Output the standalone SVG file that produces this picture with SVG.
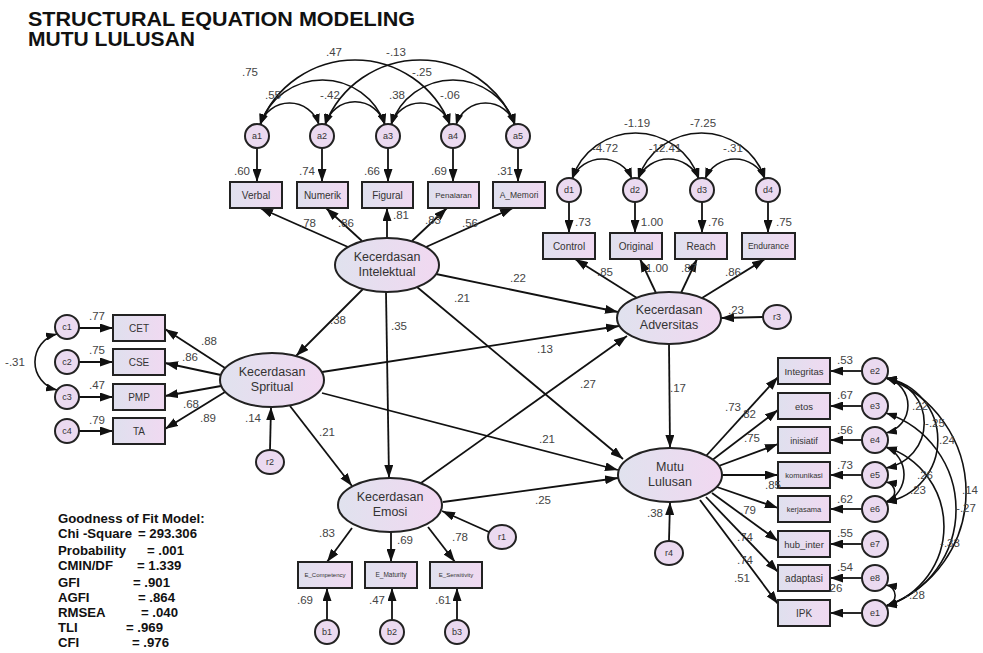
<svg xmlns="http://www.w3.org/2000/svg" width="983" height="653" viewBox="0 0 983 653">
<defs>
<linearGradient id="gb" x1="0" y1="0" x2="1" y2="0"><stop offset="0" stop-color="#dfe0ee"/><stop offset="1" stop-color="#f0d9f1"/></linearGradient>
<linearGradient id="ge" x1="0" y1="0" x2="1" y2="0"><stop offset="0" stop-color="#e0e2ee"/><stop offset="1" stop-color="#f1d8f1"/></linearGradient>
<marker id="ah" viewBox="0 0 13 9" refX="13" refY="4.5" markerWidth="13" markerHeight="9" orient="auto-start-reverse" markerUnits="userSpaceOnUse"><path d="M0,0 L13,4.5 L0,9 z" fill="#111"/></marker>
<marker id="ac" viewBox="0 0 11 8" refX="11" refY="4" markerWidth="11" markerHeight="8" orient="auto-start-reverse" markerUnits="userSpaceOnUse"><path d="M0,0 L11,4 L0,8 z" fill="#111"/></marker>
<style>
.box{fill:url(#gb);stroke:#222;stroke-width:2}
.lat{fill:url(#ge);stroke:#222;stroke-width:2}
.err{fill:#ebdaf0;stroke:#222;stroke-width:2}
.ln{stroke:#111;stroke-width:1.8;fill:none;marker-end:url(#ah)}
.cv{stroke:#111;stroke-width:1.6;fill:none;marker-start:url(#ac);marker-end:url(#ac)}
text{font-family:"Liberation Sans",Arial,sans-serif;fill:#333}
.t{font-size:10px;text-anchor:middle}
.tl{font-size:12.5px;text-anchor:middle}
.te{font-size:9px;text-anchor:middle}
.n{font-size:11.5px;text-anchor:middle;fill:#444}
.title{font-size:20px;font-weight:bold;fill:#111}
.fit{font-size:13.2px;font-weight:bold;fill:#111}
</style>
</defs>
<rect width="983" height="653" fill="#fff"/>
<text class="title" x="28" y="26" textLength="387" lengthAdjust="spacingAndGlyphs">STRUCTURAL EQUATION MODELING</text>
<text class="title" x="28" y="46" textLength="167" lengthAdjust="spacingAndGlyphs">MUTU LULUSAN</text>

<g id="connectors">
<path class="cv" d="M260,125 A30.8,30.8 0 0 1 319,125"/>
<path class="cv" d="M325,125 A31,31 0 0 1 385,125"/>
<path class="cv" d="M391,125 A30.8,30.8 0 0 1 450,125"/>
<path class="cv" d="M456,125 A30.8,30.8 0 0 1 515,125"/>
<path class="cv" d="M260,125 A65.9,65.9 0 0 1 385,125"/>
<path class="cv" d="M391,125 A65.2,65.2 0 0 1 515,125"/>
<path class="cv" d="M260,125 A101.9,101.9 0 0 1 450,125"/>
<path class="cv" d="M325,125 A101.9,101.9 0 0 1 515,125"/>
<path class="cv" d="M572,179 A32.5,32.5 0 0 1 632,179"/>
<path class="cv" d="M638,179 A33.3,33.3 0 0 1 699,179"/>
<path class="cv" d="M705,179 A32.5,32.5 0 0 1 765,179"/>
<path class="cv" d="M572,179 A66.8,66.8 0 0 1 699,179"/>
<path class="cv" d="M638,179 A66.8,66.8 0 0 1 765,179"/>
<path class="cv" d="M57,334 A28.8,28.8 0 0 0 57,390"/>
<path class="cv" d="M886,378 A28.2,28.2 0 0 1 886,433"/>
<path class="cv" d="M886,378 A45.6,45.6 0 0 1 886,468"/>
<path class="cv" d="M886,378 A63,63 0 0 1 886,502"/>
<path class="cv" d="M886,447 A30,30 0 0 1 886,502"/>
<path class="cv" d="M886,482 A10.1,10.1 0 0 1 886,502"/>
<path class="cv" d="M886,378 A121.2,121.2 0 0 1 886,606"/>
<path class="cv" d="M886,413 A101.5,101.5 0 0 1 886,606"/>
<path class="cv" d="M886,447 A83.5,83.5 0 0 1 886,606"/>
<path class="cv" d="M886,585 A10.6,10.6 0 0 1 886,606"/>
<line class="ln" x1="257" y1="148" x2="257" y2="182"/>
<line class="ln" x1="322" y1="148" x2="322" y2="182"/>
<line class="ln" x1="388" y1="148" x2="388" y2="182"/>
<line class="ln" x1="453" y1="148" x2="453" y2="182"/>
<line class="ln" x1="518" y1="148" x2="518" y2="182"/>
<line class="ln" x1="569" y1="202" x2="569" y2="233"/>
<line class="ln" x1="635" y1="202" x2="635" y2="233"/>
<line class="ln" x1="702" y1="202" x2="702" y2="233"/>
<line class="ln" x1="768" y1="202" x2="768" y2="233"/>
<line class="ln" x1="79" y1="328" x2="113" y2="328"/>
<line class="ln" x1="79" y1="362" x2="113" y2="362"/>
<line class="ln" x1="79" y1="397" x2="113" y2="397"/>
<line class="ln" x1="79" y1="431" x2="113" y2="431"/>
<line class="ln" x1="327" y1="620" x2="327" y2="588"/>
<line class="ln" x1="392" y1="620" x2="392" y2="588"/>
<line class="ln" x1="457" y1="620" x2="457" y2="588"/>
<line class="ln" x1="862" y1="371" x2="830" y2="371"/>
<line class="ln" x1="862" y1="406" x2="830" y2="406"/>
<line class="ln" x1="862" y1="440" x2="830" y2="440"/>
<line class="ln" x1="862" y1="475" x2="830" y2="475"/>
<line class="ln" x1="862" y1="509" x2="830" y2="509"/>
<line class="ln" x1="862" y1="544" x2="830" y2="544"/>
<line class="ln" x1="862" y1="578" x2="830" y2="578"/>
<line class="ln" x1="862" y1="613" x2="830" y2="613"/>
<line class="ln" x1="348" y1="247" x2="260" y2="208"/>
<line class="ln" x1="362" y1="241" x2="326" y2="208"/>
<line class="ln" x1="387" y1="238" x2="387" y2="208"/>
<line class="ln" x1="412" y1="241" x2="447" y2="208"/>
<line class="ln" x1="426" y1="247" x2="513" y2="208"/>
<line class="ln" x1="637" y1="298" x2="575" y2="259"/>
<line class="ln" x1="656" y1="293" x2="640" y2="259"/>
<line class="ln" x1="681" y1="293" x2="697" y2="259"/>
<line class="ln" x1="702" y1="298" x2="765" y2="259"/>
<line class="ln" x1="225" y1="368" x2="165" y2="329"/>
<line class="ln" x1="221" y1="375" x2="165" y2="363"/>
<line class="ln" x1="221" y1="386" x2="165" y2="396"/>
<line class="ln" x1="225" y1="392" x2="165" y2="429"/>
<line class="ln" x1="352" y1="528" x2="327" y2="562"/>
<line class="ln" x1="391" y1="532" x2="391" y2="562"/>
<line class="ln" x1="428" y1="527" x2="455" y2="562"/>
<line class="ln" x1="706" y1="456" x2="778" y2="377"/>
<line class="ln" x1="711" y1="461" x2="778" y2="410"/>
<line class="ln" x1="716" y1="467" x2="778" y2="444"/>
<line class="ln" x1="722" y1="475" x2="778" y2="475"/>
<line class="ln" x1="717" y1="487" x2="778" y2="508"/>
<line class="ln" x1="712" y1="493" x2="778" y2="541"/>
<line class="ln" x1="706" y1="497" x2="778" y2="572"/>
<line class="ln" x1="700" y1="500" x2="778" y2="604"/>
<line class="ln" x1="763" y1="317" x2="721" y2="318"/>
<line class="ln" x1="270" y1="450" x2="271" y2="407"/>
<line class="ln" x1="489" y1="532" x2="442" y2="511"/>
<line class="ln" x1="669" y1="541" x2="670" y2="502"/>
<line class="ln" x1="363" y1="289" x2="296" y2="356"/>
<line class="ln" x1="386" y1="292" x2="389" y2="478"/>
<line class="ln" x1="436" y1="274" x2="618" y2="312"/>
<line class="ln" x1="417" y1="287" x2="623" y2="459"/>
<line class="ln" x1="322" y1="372" x2="619" y2="326"/>
<line class="ln" x1="322" y1="393" x2="618" y2="470"/>
<line class="ln" x1="290" y1="406" x2="352" y2="486"/>
<line class="ln" x1="421" y1="483" x2="627" y2="336"/>
<line class="ln" x1="443" y1="502" x2="618" y2="478"/>
<line class="ln" x1="669" y1="344" x2="670" y2="448"/>
</g>

<g id="a1"><circle class="err" cx="257" cy="136" r="12"/><text class="te" x="257" y="139">a1</text></g>
<g id="a2"><circle class="err" cx="322" cy="136" r="12"/><text class="te" x="322" y="139">a2</text></g>
<g id="a3"><circle class="err" cx="388" cy="136" r="12"/><text class="te" x="388" y="139">a3</text></g>
<g id="a4"><circle class="err" cx="453" cy="136" r="12"/><text class="te" x="453" y="139">a4</text></g>
<g id="a5"><circle class="err" cx="518" cy="136" r="12"/><text class="te" x="518" y="139">a5</text></g>
<g id="Verbal"><rect class="box" x="230" y="182" width="52" height="26"/><text class="t" x="256" y="199">Verbal</text></g>
<g id="Numerik"><rect class="box" x="297" y="182" width="51" height="26"/><text class="t" x="322.5" y="199">Numerik</text></g>
<g id="Figural"><rect class="box" x="362" y="182" width="51" height="26"/><text class="t" x="387.5" y="199">Figural</text></g>
<g id="Penalaran"><rect class="box" x="428" y="182" width="51" height="26"/><text class="t" x="453.5" y="198" style="font-size:8px">Penalaran</text></g>
<g id="A_Memori"><rect class="box" x="493" y="182" width="52" height="26"/><text class="t" x="519" y="198" style="font-size:8.5px">A_Memori</text></g>

<g id="d1"><circle class="err" cx="569" cy="190" r="12"/><text class="te" x="569" y="193">d1</text></g>
<g id="d2"><circle class="err" cx="635" cy="190" r="12"/><text class="te" x="635" y="193">d2</text></g>
<g id="d3"><circle class="err" cx="702" cy="190" r="12"/><text class="te" x="702" y="193">d3</text></g>
<g id="d4"><circle class="err" cx="768" cy="190" r="12"/><text class="te" x="768" y="193">d4</text></g>
<g id="Control"><rect class="box" x="543" y="233" width="52" height="26"/><text class="t" x="569" y="250">Control</text></g>
<g id="Original"><rect class="box" x="610" y="233" width="52" height="26"/><text class="t" x="636" y="250">Original</text></g>
<g id="Reach"><rect class="box" x="675" y="233" width="52" height="26"/><text class="t" x="701" y="250">Reach</text></g>
<g id="Endurance"><rect class="box" x="742" y="233" width="53" height="26"/><text class="t" x="768.5" y="249" style="font-size:8.5px">Endurance</text></g>

<g id="c1"><circle class="err" cx="67" cy="327" r="12"/><text class="te" x="67" y="330">c1</text></g>
<g id="c2"><circle class="err" cx="67" cy="362" r="12"/><text class="te" x="67" y="365">c2</text></g>
<g id="c3"><circle class="err" cx="67" cy="397" r="12"/><text class="te" x="67" y="400">c3</text></g>
<g id="c4"><circle class="err" cx="67" cy="431" r="12"/><text class="te" x="67" y="434">c4</text></g>
<g id="CET"><rect class="box" x="113" y="315" width="52" height="26"/><text class="t" x="139" y="332">CET</text></g>
<g id="CSE"><rect class="box" x="113" y="349" width="52" height="26"/><text class="t" x="139" y="366">CSE</text></g>
<g id="PMP"><rect class="box" x="113" y="384" width="52" height="26"/><text class="t" x="139" y="401">PMP</text></g>
<g id="TA"><rect class="box" x="113" y="418" width="52" height="26"/><text class="t" x="139" y="435">TA</text></g>

<g id="b1"><circle class="err" cx="327" cy="632" r="12"/><text class="te" x="327" y="635">b1</text></g>
<g id="b2"><circle class="err" cx="392" cy="632" r="12"/><text class="te" x="392" y="635">b2</text></g>
<g id="b3"><circle class="err" cx="457" cy="632" r="12"/><text class="te" x="457" y="635">b3</text></g>
<g id="E_Competency"><rect class="box" x="298" y="562" width="54" height="26"/><text class="t" x="325" y="577" style="font-size:6px">E_Competency</text></g>
<g id="E_Maturity"><rect class="box" x="365" y="562" width="52" height="26"/><text class="t" x="391" y="577" style="font-size:6.5px">E_Maturity</text></g>
<g id="E_Sensitivity"><rect class="box" x="430" y="562" width="52" height="26"/><text class="t" x="456" y="577" style="font-size:6px">E_Sensitivity</text></g>

<g id="e2"><circle class="err" cx="875" cy="371" r="13"/><text class="te" x="875" y="374">e2</text></g>
<g id="e3"><circle class="err" cx="875" cy="406" r="13"/><text class="te" x="875" y="409">e3</text></g>
<g id="e4"><circle class="err" cx="875" cy="440" r="13"/><text class="te" x="875" y="443">e4</text></g>
<g id="e5"><circle class="err" cx="875" cy="475" r="13"/><text class="te" x="875" y="478">e5</text></g>
<g id="e6"><circle class="err" cx="875" cy="509" r="13"/><text class="te" x="875" y="512">e6</text></g>
<g id="e7"><circle class="err" cx="875" cy="544" r="13"/><text class="te" x="875" y="547">e7</text></g>
<g id="e8"><circle class="err" cx="875" cy="578" r="13"/><text class="te" x="875" y="581">e8</text></g>
<g id="e1"><circle class="err" cx="875" cy="613" r="13"/><text class="te" x="875" y="616">e1</text></g>
<g id="Integritas"><rect class="box" x="778" y="358" width="52" height="26"/><text class="t" x="804" y="375" style="font-size:9.5px">Integritas</text></g>
<g id="etos"><rect class="box" x="778" y="393" width="52" height="26"/><text class="t" x="804" y="410" style="font-size:9.5px">etos</text></g>
<g id="inisiatif"><rect class="box" x="778" y="427" width="52" height="26"/><text class="t" x="804" y="444" style="font-size:9px">inisiatif</text></g>
<g id="komunikasi"><rect class="box" x="778" y="462" width="52" height="26"/><text class="t" x="804" y="478" style="font-size:7.5px">komunikasi</text></g>
<g id="kerjasama"><rect class="box" x="778" y="496" width="52" height="26"/><text class="t" x="804" y="512" style="font-size:7.5px">kerjasama</text></g>
<g id="hub_inter"><rect class="box" x="778" y="531" width="52" height="26"/><text class="t" x="804" y="548" style="font-size:9.5px">hub_inter</text></g>
<g id="adaptasi"><rect class="box" x="778" y="565" width="52" height="26"/><text class="t" x="804" y="582">adaptasi</text></g>
<g id="IPK"><rect class="box" x="778" y="600" width="52" height="26"/><text class="t" x="804" y="617">IPK</text></g>

<g id="r1"><ellipse class="err" cx="502" cy="537" rx="14" ry="12"/><text class="te" x="502" y="540">r1</text></g>
<g id="r2"><ellipse class="err" cx="270" cy="462" rx="14" ry="12"/><text class="te" x="270" y="465">r2</text></g>
<g id="r3"><ellipse class="err" cx="777" cy="317" rx="14" ry="12"/><text class="te" x="777" y="320">r3</text></g>
<g id="r4"><ellipse class="err" cx="669" cy="553" rx="14" ry="12"/><text class="te" x="669" y="556">r4</text></g>

<g id="KecerdasanIntelektual"><ellipse class="lat" cx="387" cy="265" rx="52" ry="27"/><text class="tl" x="387" y="261">Kecerdasan</text><text class="tl" x="387" y="276">Intelektual</text></g>
<g id="KecerdasanSpritual"><ellipse class="lat" cx="272" cy="380" rx="52" ry="27"/><text class="tl" x="272" y="376">Kecerdasan</text><text class="tl" x="272" y="391">Spritual</text></g>
<g id="KecerdasanEmosi"><ellipse class="lat" cx="390" cy="505" rx="52" ry="27"/><text class="tl" x="390" y="501">Kecerdasan</text><text class="tl" x="390" y="516">Emosi</text></g>
<g id="KecerdasanAdversitas"><ellipse class="lat" cx="669" cy="318" rx="52" ry="26"/><text class="tl" x="669" y="314">Kecerdasan</text><text class="tl" x="669" y="329">Adversitas</text></g>
<g id="MutuLulusan"><ellipse class="lat" cx="670" cy="475" rx="52" ry="27"/><text class="tl" x="670" y="471">Mutu</text><text class="tl" x="670" y="486">Lulusan</text></g>

<g id="labels">
<text class="n" x="334" y="56">.47</text><text class="n" x="396" y="56">-.13</text>
<text class="n" x="250" y="76">.75</text><text class="n" x="422" y="76">-.25</text>
<text class="n" x="273" y="99">.55</text><text class="n" x="330" y="99">-.42</text><text class="n" x="397" y="99">.38</text><text class="n" x="450" y="99">-.06</text>
<text class="n" x="242" y="175">.60</text><text class="n" x="307" y="175">.74</text><text class="n" x="372" y="175">.66</text><text class="n" x="439" y="175">.69</text><text class="n" x="505" y="175">.31</text>
<text class="n" x="308" y="227">.78</text><text class="n" x="346" y="227">.86</text><text class="n" x="401" y="219">.81</text><text class="n" x="433" y="224">.83</text><text class="n" x="470" y="227">.56</text>
<text class="n" x="637" y="127">-1.19</text><text class="n" x="703" y="127">-7.25</text>
<text class="n" x="605" y="152">-4.72</text><text class="n" x="665" y="152">-12.41</text><text class="n" x="733" y="152">-.31</text>
<text class="n" x="583" y="226">.73</text><text class="n" x="652" y="226">1.00</text><text class="n" x="716" y="226">.76</text><text class="n" x="784" y="226">.75</text>
<text class="n" x="605" y="276">.85</text><text class="n" x="657" y="272">1.00</text><text class="n" x="689" y="272">.87</text><text class="n" x="733" y="276">.86</text>
<text class="n" x="736" y="314">.23</text>
<text class="n" x="97" y="320">.77</text><text class="n" x="97" y="354">.75</text><text class="n" x="97" y="389">.47</text><text class="n" x="97" y="424">.79</text>
<text class="n" x="15" y="366">-.31</text>
<text class="n" x="209" y="345">.88</text><text class="n" x="190" y="361">.86</text><text class="n" x="191" y="408">.68</text><text class="n" x="208" y="422">.89</text>
<text class="n" x="338" y="324">.38</text><text class="n" x="399" y="330">.35</text><text class="n" x="518" y="282">.22</text><text class="n" x="462" y="302">.21</text>
<text class="n" x="545" y="353">.13</text><text class="n" x="547" y="443">.21</text><text class="n" x="327" y="436">.21</text><text class="n" x="588" y="388">.27</text>
<text class="n" x="678" y="392">.17</text><text class="n" x="543" y="504">.25</text><text class="n" x="253" y="422">.14</text>
<text class="n" x="327" y="537">.83</text><text class="n" x="405" y="544">.69</text><text class="n" x="460" y="541">.78</text>
<text class="n" x="305" y="604">.69</text><text class="n" x="377" y="604">.47</text><text class="n" x="443" y="604">.61</text>
<text class="n" x="655" y="517">.38</text>
<text class="n" x="733" y="411">.73</text><text class="n" x="748" y="418">.82</text><text class="n" x="752" y="442">.75</text><text class="n" x="773" y="489">.85</text>
<text class="n" x="748" y="514">.79</text><text class="n" x="745" y="541">.74</text><text class="n" x="745" y="564">.74</text><text class="n" x="742" y="582">.51</text>
<text class="n" x="845" y="364">.53</text><text class="n" x="845" y="399">.67</text><text class="n" x="845" y="434">.56</text><text class="n" x="845" y="469">.73</text>
<text class="n" x="845" y="503">.62</text><text class="n" x="845" y="537">.55</text><text class="n" x="845" y="571">.54</text><text class="n" x="836" y="592">26</text>
<text class="n" x="920" y="410">.22</text><text class="n" x="935" y="427">-.25</text><text class="n" x="947" y="444">.24</text><text class="n" x="925" y="479">.26</text>
<text class="n" x="918" y="494">.23</text><text class="n" x="970" y="494">.14</text><text class="n" x="966" y="512">-.27</text><text class="n" x="950" y="547">-.33</text><text class="n" x="915" y="599">-.28</text>
</g>

<g id="fit">
<text class="fit" x="58" y="523">Goodness of Fit Model:</text>
<text class="fit" x="58" y="538">Chi -Square</text><text class="fit" x="138" y="538">= 293.306</text>
<text class="fit" x="58" y="555">Probability</text><text class="fit" x="147" y="555">= .001</text>
<text class="fit" x="58" y="570">CMIN/DF</text><text class="fit" x="137" y="570">= 1.339</text>
<text class="fit" x="58" y="587">GFI</text><text class="fit" x="133" y="587">= .901</text>
<text class="fit" x="58" y="602">AGFI</text><text class="fit" x="138" y="602">= .864</text>
<text class="fit" x="58" y="617">RMSEA</text><text class="fit" x="141" y="617">= .040</text>
<text class="fit" x="58" y="632">TLI</text><text class="fit" x="126" y="632">= .969</text>
<text class="fit" x="58" y="647">CFI</text><text class="fit" x="132" y="647">= .976</text>
</g>
</svg>
